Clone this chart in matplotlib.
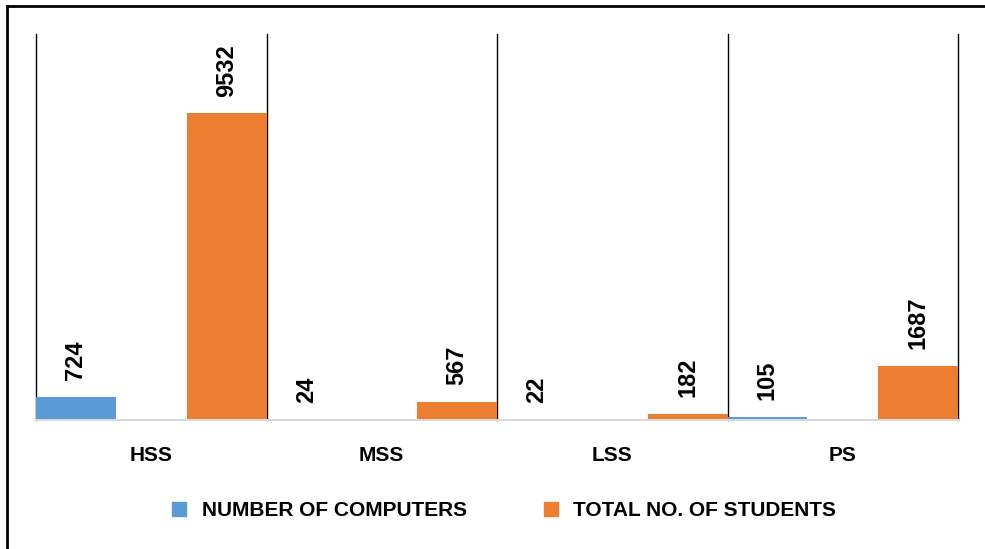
import matplotlib
matplotlib.use("Agg")
import numpy as np
import matplotlib.pyplot as plt
from matplotlib.lines import Line2D

plt.rcParams["font.family"] = ["Liberation Sans", "DejaVu Sans"]
plt.rcParams["font.weight"] = "bold"

categories = ["HSS", "MSS", "LSS", "PS"]
computers = [724, 24, 22, 105]
students = [9532, 567, 182, 1687]
series_names = ["NUMBER OF COMPUTERS", "TOTAL NO. OF STUDENTS"]
colors = ["#5B9BD5", "#ED7D31"]

W, H = 985, 549
fig = plt.figure(figsize=(W / 100, H / 100), dpi=100)
ax = fig.add_axes([36 / W, 1 - 420 / H, (958 - 36) / W, (420 - 34) / H])

x = np.arange(len(categories))
width = 0.346
off = 0.5 - width / 2
b1 = ax.bar(x - off, computers, width, color=colors[0], label=series_names[0])
b2 = ax.bar(x + off, students, width, color=colors[1], label=series_names[1])

for bars, vals in [(b1, computers), (b2, students)]:
    for r, v in zip(bars, vals):
        ax.annotate(str(v), (r.get_x() + r.get_width() / 2, v),
                    xytext=(0, 12), textcoords="offset points",
                    rotation=90, ha="center", va="bottom",
                    fontsize=17, fontweight="bold")

ax.set_xlim(-0.5, len(categories) - 0.5)
ax.set_ylim(0, 12000)
for b in np.arange(-0.5, len(categories), 1.0):
    ax.axvline(b, color="black", lw=1.0, zorder=0, clip_on=False)
for s in ["top", "left", "right"]:
    ax.spines[s].set_visible(False)
ax.spines["bottom"].set_color("#D9D9D9")
ax.spines["bottom"].set_linewidth(1.5)
ax.set_yticks([])
ax.set_xticks(x)
ax.set_xticklabels(categories, fontsize=15, fontweight="bold")
ax.tick_params(axis="x", length=0, pad=19)

handles = [Line2D([], [], marker="s", ls="", color=c, markersize=10) for c in colors]
fig.legend(handles, series_names, loc="center", bbox_to_anchor=(0.505, 1 - 511 / H),
           ncol=2, frameon=False, handletextpad=0.1, columnspacing=3.0,
           prop={"weight": "bold", "size": 15})

# outer frame (top and left edges visible)
fig.add_artist(Line2D([7 / W, 1], [1 - 6 / H, 1 - 6 / H], color="black", lw=2))
fig.add_artist(Line2D([7 / W, 7 / W], [1 - 6 / H, 0], color="black", lw=2))

fig.savefig("out.png", dpi=100)
